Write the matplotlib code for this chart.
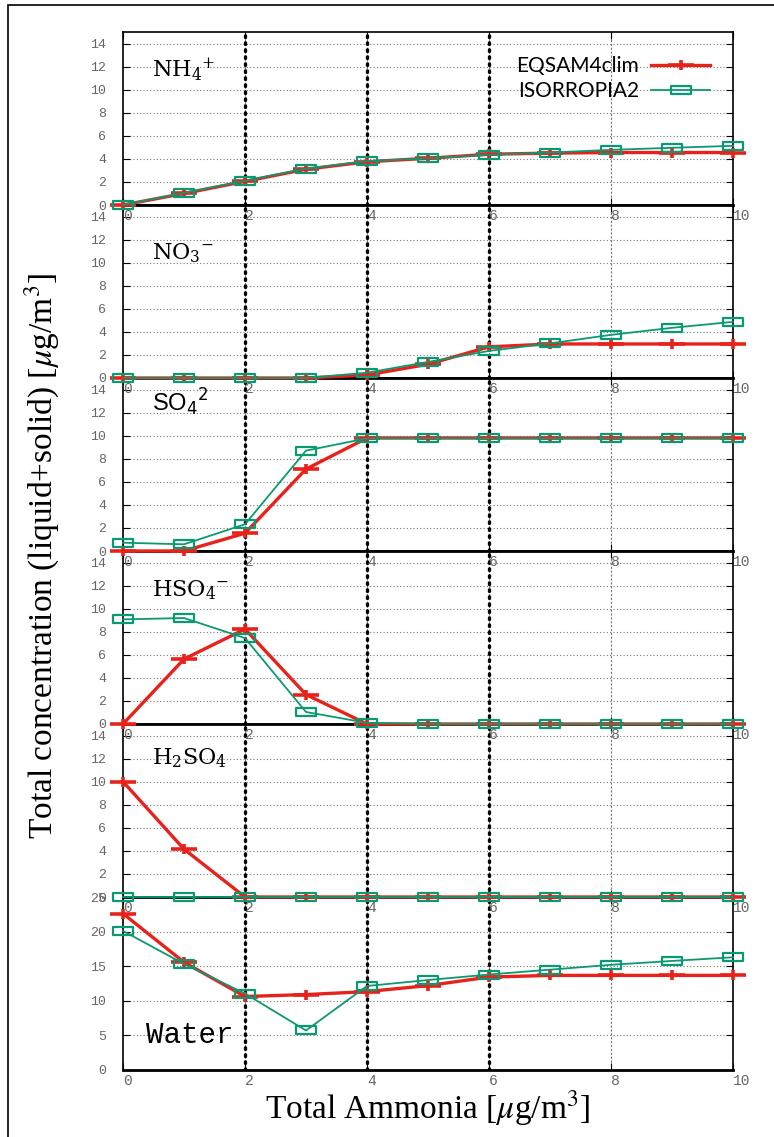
import numpy as np
import matplotlib
matplotlib.use('Agg')
import matplotlib.pyplot as plt
from matplotlib.path import Path
from matplotlib.patches import Rectangle
from matplotlib.lines import Line2D

# total ammonia [ug/m3]
ammonia = [0, 1, 2, 3, 4, 5, 6, 7, 8, 9, 10]

nh4_eqsam = [0, 1.0, 2.05, 3.1, 3.75, 4.05, 4.4, 4.5, 4.55, 4.55, 4.55]
nh4_isorropia = [0, 1.05, 2.1, 3.15, 3.8, 4.05, 4.35, 4.55, 4.78, 4.96, 5.13]
no3_eqsam = [0, 0, 0, 0, 0.26, 1.19, 2.7, 2.95, 2.95, 2.95, 2.95]
no3_isorropia = [0, 0, 0, 0, 0.46, 1.39, 2.35, 3.0, 3.74, 4.35, 4.87]
so4_eqsam = [0, 0, 1.54, 7.1, 9.8, 9.8, 9.8, 9.8, 9.8, 9.8, 9.8]
so4_isorropia = [0.72, 0.58, 2.32, 8.7, 9.77, 9.77, 9.77, 9.77, 9.77, 9.77, 9.77]
hso4_eqsam = [0, 5.63, 8.23, 2.55, 0, 0, 0, 0, 0, 0, 0]
hso4_isorropia = [9.07, 9.19, 7.45, 1.04, 0.1, 0, 0, 0, 0, 0, 0]
h2so4_eqsam = [10, 4.15, 0, 0, 0, 0, 0, 0, 0, 0, 0]
h2so4_isorropia = [0, 0, 0, 0, 0, 0, 0, 0, 0, 0, 0]
water_eqsam = [22.6, 15.57, 10.62, 10.9, 11.33, 12.2, 13.43, 13.67, 13.67, 13.67, 13.67]
water_isorropia = [20.1, 15.33, 11.05, 5.71, 12.14, 13.0, 13.8, 14.5, 15.2, 15.76, 16.29]

panel_labels = [r'NH$_{4}{}^{+}$', r'NO$_{3}{}^{-}$', r'SO$_{4}{}^{2}$',
                r'HSO$_{4}{}^{-}$', r'H$_2$SO$_4$', 'Water']
x_ticks = [0, 2, 4, 6, 8, 10]

panels = [
    (nh4_eqsam, nh4_isorropia),
    (no3_eqsam, no3_isorropia),
    (so4_eqsam, so4_isorropia),
    (hso4_eqsam, hso4_isorropia),
    (h2so4_eqsam, h2so4_isorropia),
    (water_eqsam, water_isorropia),
]

RED = '#e8221b'
GREEN = '#0a9a72'

# gnuplot-like stretched markers
plus_marker = Path([(-1.35, 0), (1.35, 0), (0, -0.5), (0, 0.5)],
                   [Path.MOVETO, Path.LINETO, Path.MOVETO, Path.LINETO])
box_marker = Path([(-1, -0.38), (1, -0.38), (1, 0.38), (-1, 0.38), (-1, -0.38)],
                  [Path.MOVETO, Path.LINETO, Path.LINETO, Path.LINETO, Path.CLOSEPOLY])

W, H = 774, 1137
fig = plt.figure(figsize=(W / 100, H / 100), dpi=100)

left_px, right_px = 123, 733
top_px, panel_h = 32, 173

# (font family, math font, x, y, size) for each panel label
label_style = [
    ('DejaVu Serif', 'dejavuserif', 0.048, 0.78, 16),
    ('DejaVu Serif', 'dejavuserif', 0.048, 0.72, 16),
    ('Liberation Sans', 'dejavusans', 0.048, 0.86, 17),
    ('DejaVu Serif', 'dejavuserif', 0.048, 0.775, 16),
    ('DejaVu Serif', 'dejavuserif', 0.048, 0.80, 16),
    ('Liberation Mono', 'dejavusans', 0.038, 0.20, 21),
]

axes = []
for i, (eq, iso) in enumerate(panels):
    y0 = 1 - (top_px + panel_h * (i + 1)) / H
    ax = fig.add_axes([left_px / W, y0, (right_px - left_px) / W, panel_h / H])
    ax.set_zorder(10 - i)
    ax.patch.set_alpha(0)
    axes.append(ax)

    ax.plot(ammonia, eq, color=RED, lw=2.4, marker=plus_marker, ms=19,
            mew=2.6, mfc='none', clip_on=False, zorder=5)
    ax.plot(ammonia, iso, color=GREEN, lw=1.3, marker=box_marker, ms=15,
            mew=1.6, mfc='none', clip_on=False, zorder=6)

    ax.set_xlim(0, 10)
    ax.set_xticks(x_ticks)
    if i < 5:
        ax.set_ylim(0, 15)
        ax.set_yticks(np.arange(0, 15, 2))
    else:
        ax.set_ylim(0, 25)
        ax.set_yticks(np.arange(0, 26, 5))

    # grid: thin grey dotted, plus heavy black dots at 2, 4, 6
    for yt in ax.get_yticks()[1:]:
        ax.axhline(yt, color='#777777', lw=0.8, ls=(0, (1, 2)), zorder=1)
    for xt in [2, 4, 6, 8]:
        ax.axvline(xt, color='#777777', lw=0.8, ls=(0, (2, 1.5)), zorder=1)
    for xt in [2, 4, 6]:
        ax.axvline(xt, color='black', lw=2.4, ls=(0, (0.5, 1.6)),
                   dash_capstyle='round', zorder=2)

    ax.tick_params(direction='in', top=True, right=True, length=5, width=0.8,
                   labelcolor='#666666')
    ax.tick_params(axis='y', pad=12, labelsize=9.5)
    ax.tick_params(axis='x', pad=3, labelsize=10.5)
    for lab in ax.get_xticklabels() + ax.get_yticklabels():
        lab.set_family('Liberation Mono')
    for lab in ax.get_xticklabels():
        lab.set_horizontalalignment('left')

    for side in ['left', 'right', 'top']:
        ax.spines[side].set_linewidth(1.2)
    ax.spines['bottom'].set_linewidth(2.0)

    fam, mfam, lx, ly, fs = label_style[i]
    ax.text(lx, ly, panel_labels[i], transform=ax.transAxes, fontsize=fs,
            family=fam, math_fontfamily=mfam, va='center', ha='left', zorder=8)

# legend in the top panel
handles = [
    Line2D([], [], color=RED, lw=2.4, marker=plus_marker, ms=19, mew=2.6, mfc='none'),
    Line2D([], [], color=GREEN, lw=1.3, marker=box_marker, ms=15, mew=1.6, mfc='none'),
]
axes[0].legend(handles, ['EQSAM4clim', 'ISORROPIA2'], loc='upper right',
               bbox_to_anchor=(0.979, 0.92), frameon=False, markerfirst=False,
               handlelength=2.8, handletextpad=0.6, labelspacing=0.25,
               borderpad=0, numpoints=1, prop={'family': 'Lato', 'size': 15})

fig.text(42 / W, 1 - 556 / H, r'Total concentration (liquid+solid) [$\mu$g/m$^3$]',
         rotation=90, ha='center', va='center', fontsize=24,
         family='Liberation Serif', math_fontfamily='stix')
fig.text(428 / W, 1 - 1108 / H, r'Total Ammonia [$\mu$g/m$^3$]',
         ha='center', va='center', fontsize=24,
         family='Liberation Serif', math_fontfamily='stix')

# outer frame
fig.patches.append(Rectangle((8 / W, -0.01), 1.0, 1 - 5 / H + 0.01,
                             transform=fig.transFigure, fill=False,
                             edgecolor='black', lw=1.2))

fig.savefig('out.png', dpi=100)
